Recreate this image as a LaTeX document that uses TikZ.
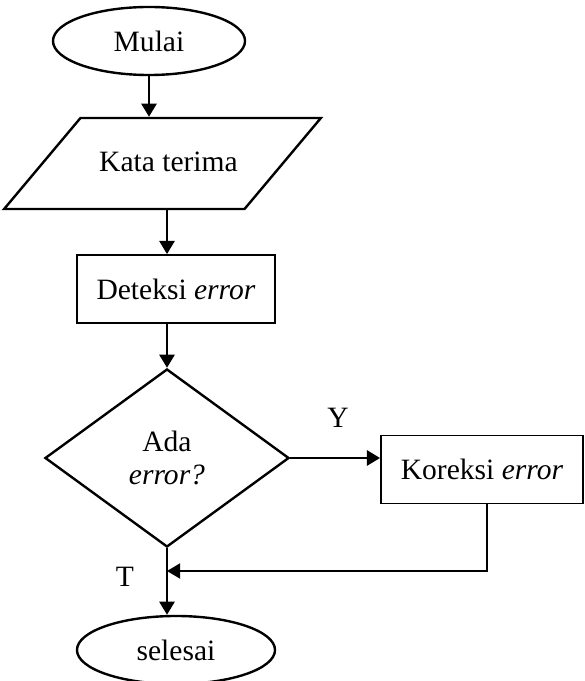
\documentclass[tikz,border=0pt]{standalone}
\usepackage{fontspec}
\setmainfont{Liberation Serif}
\usepackage{tikz}
\usetikzlibrary{arrows.meta,shapes.geometric,positioning}
\tikzstyle{terminal} = [ellipse, draw, line width=1.7pt, minimum width=4.8cm, minimum height=1.7cm, inner sep=0pt, text centered]
\tikzstyle{io} = [trapezium, trapezium left angle=50, trapezium right angle=130, draw, line width=1.7pt, text height=0.5cm, text depth=0.1cm, inner xsep=0.25cm, inner ysep=0.8375cm]
\tikzstyle{process} = [rectangle, draw, line width=1.3pt, minimum width=4.95cm, minimum height=1.7cm, inner sep=0pt, text centered]
\tikzstyle{decision} = [diamond, draw, line width=1.7pt, minimum width=6.1cm, minimum height=4.45cm, inner sep=0pt, align=center]
\tikzstyle{arrow} = [line width=1.7pt,->,>={Triangle[length=3.3mm,width=3.8mm]}]

\begin{document}
\begin{tikzpicture}[x=0.025cm, y=-0.025cm, every node/.style={font=\fontsize{21}{25}\selectfont}]
\useasboundingbox (0,0) rectangle (584,681);
% Main column
\coordinate (axis) at (167,0);
\node[terminal] (mulai) at (149,41) {Mulai};
\node[io] (kata) at (162.5,163.5) {\makebox[3.6cm]{\hspace{0.3cm}Kata terima}};
\node[process] (deteksi) at (176,289) {Deteksi \textit{error}};
\node[decision] (cek) at (167,458) {Ada\\[-2pt] \textit{error?}};
\node[process, minimum width=5.05cm] (koreksi) at (482,469.5) {Koreksi \textit{error}};
\node[terminal, minimum width=4.95cm] (selesai) at (176,650) {selesai};

% Labels
\node (ya) at (338,418) {Y};
\node (tidak) at (125,577) {T};
\coordinate (gabung) at (167,571);

% Connections
\draw[arrow] (mulai.south) -- (mulai.south |- kata.north);
\draw[arrow] (kata.south -| axis) -- (deteksi.north -| axis);
\draw[arrow] (deteksi.south -| axis) -- (cek.north);
\draw[arrow] (cek.east) -- (koreksi.west |- cek.east);
\draw[arrow] (cek.south) -- (cek.south |- selesai.north);
\draw[arrow, line width=1.3pt] ([xshift=0.12cm]koreksi.south) |- (gabung);
\end{tikzpicture}
\end{document}
